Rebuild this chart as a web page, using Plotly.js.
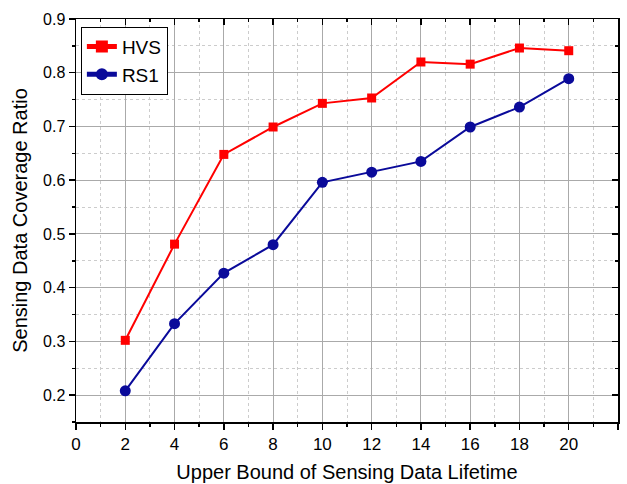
<!DOCTYPE html>
<html><head><meta charset="utf-8">
<script src="https://cdn.plot.ly/plotly-3.0.1.min.js"></script>
<style>body{margin:0;background:#fff}#c{width:627px;height:484px}</style>
</head><body><div id="c"></div>
<script>
const xVals = [2, 4, 6, 8, 10, 12, 14, 16, 18, 20];
const hvs = [0.302, 0.481, 0.648, 0.699, 0.743, 0.753, 0.820, 0.816, 0.846, 0.841];
const rs1 = [0.208, 0.333, 0.427, 0.480, 0.596, 0.615, 0.635, 0.699, 0.736, 0.789];
const seriesNames = ['HVS', 'RS1'];
const xTitle = 'Upper Bound of Sensing Data Lifetime';
const yTitle = 'Sensing Data Coverage Ratio';

const F = 'Liberation Sans, Arial, sans-serif';
const traces = [
  {x: xVals, y: hvs, name: seriesNames[0], mode: 'lines+markers', type: 'scatter',
   line: {color: '#ff0000', width: 2}, marker: {symbol: 'square', size: 9, color: '#ff0000'}},
  {x: xVals, y: rs1, name: seriesNames[1], mode: 'lines+markers', type: 'scatter',
   line: {color: '#0a0a9a', width: 2}, marker: {symbol: 'circle', size: 11, color: '#0a0a9a'}},
  {x: [], y: [], xaxis: 'x2', yaxis: 'y2', showlegend: false, hoverinfo: 'skip', type: 'scatter'}
];
const gridMajor = '#aaaaaa', gridMinor = '#cccccc';
const layout = {
  width: 627, height: 484,
  margin: {l: 76, r: 9, t: 19, b: 62},
  paper_bgcolor: '#fff', plot_bgcolor: '#fff',
  font: {family: F, color: '#000', size: 16},
  showlegend: true,
  legend: {x: 0.009, y: 0.981, xanchor: 'left', yanchor: 'top', bgcolor: '#fff',
           bordercolor: '#000', borderwidth: 1, font: {size: 19, family: F},
           tracegroupgap: 0, itemsizing: 'constant'},
  xaxis: {range: [0, 22], dtick: 2, tick0: 0, ticks: 'outside', ticklen: 6, tickwidth: 1.5,
          tickcolor: '#000', showline: true, linecolor: '#000', linewidth: 1.5,
          showgrid: true, gridcolor: gridMajor, gridwidth: 1, zeroline: false,
          tickfont: {size: 17, family: F},
          minor: {dtick: 1, ticks: 'outside', ticklen: 3, tickcolor: '#000', showgrid: true,
                  gridcolor: gridMinor, griddash: 'dot', gridwidth: 1},
          title: {text: xTitle, font: {size: 20, family: F}, standoff: 12}},
  yaxis: {range: [0.15, 0.9], dtick: 0.1, tick0: 0.2, ticks: 'outside', ticklen: 6, tickwidth: 1.5,
          tickcolor: '#000', showline: true, linecolor: '#000', linewidth: 1.5,
          showgrid: true, gridcolor: gridMajor, gridwidth: 1, zeroline: false,
          tickformat: '.1f', tickfont: {size: 16, family: F},
          minor: {dtick: 0.05, ticks: 'outside', ticklen: 3, tickcolor: '#000', showgrid: true,
                  gridcolor: gridMinor, griddash: 'dot', gridwidth: 1},
          title: {text: yTitle + '\u00a0\u00a0\u00a0\u00a0', font: {size: 20, family: F}, standoff: 10}},
  xaxis2: {overlaying: 'x', side: 'top', anchor: 'y', range: [0, 22], dtick: 2, tick0: 0,
           ticks: 'inside', ticklen: 6, tickwidth: 1.5, tickcolor: '#000', showticklabels: false,
           showline: true, linecolor: '#000', linewidth: 1.5, showgrid: false, zeroline: false,
           minor: {dtick: 1, ticks: 'inside', ticklen: 3, tickcolor: '#000', showgrid: false}},
  yaxis2: {overlaying: 'y', side: 'right', anchor: 'x', range: [0.15, 0.9], dtick: 0.1, tick0: 0.2,
           ticks: 'inside', ticklen: 6, tickwidth: 1.5, tickcolor: '#000', showticklabels: false,
           showline: true, linecolor: '#000', linewidth: 1.5, showgrid: false, zeroline: false,
           minor: {dtick: 0.05, ticks: 'inside', ticklen: 3, tickcolor: '#000', showgrid: false}}
};
Plotly.newPlot('c', traces, layout, {displayModeBar: false, staticPlot: true});
</script></body></html>
